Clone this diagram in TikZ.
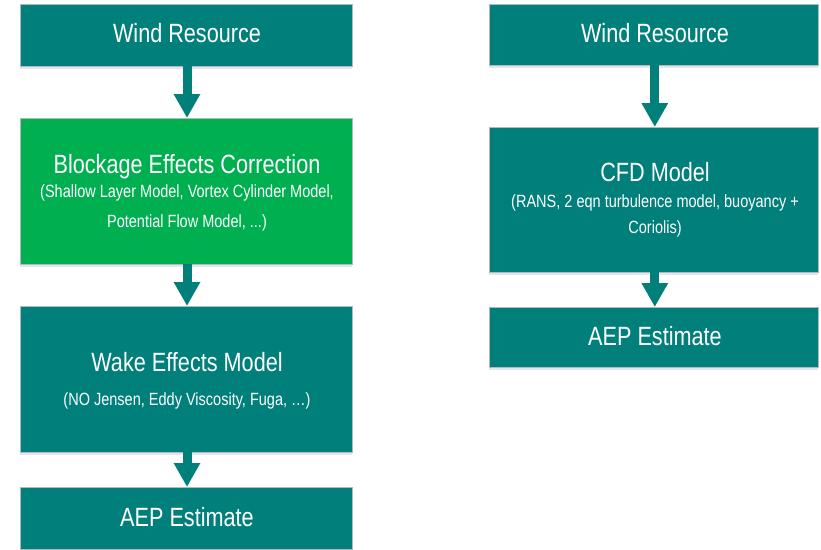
\documentclass[tikz,border=0pt]{standalone}
\usepackage{fontspec}
\setmainfont{Liberation Sans}[FakeStretch=0.82]
\usetikzlibrary{arrows.meta,shadows}
\definecolor{tealbox}{RGB}{0,127,123}
\definecolor{greenbox}{RGB}{0,176,80}
\definecolor{edgegray}{RGB}{175,185,190}
\begin{document}
\begin{tikzpicture}[x=1pt,y=-1pt,
  box/.style={draw=edgegray, line width=0.8pt, inner sep=0pt, outer sep=0pt,
    drop shadow={shadow xshift=0pt, shadow yshift=-3pt, opacity=0.10, fill=blue!40!black}},
  leftbox/.style={box, minimum width=332pt},
  rightbox/.style={box, minimum width=329pt},
  title/.style={anchor=base, inner sep=0pt, text=white, font=\fontsize{26.4}{30}\selectfont},
  sub/.style={anchor=base, inner sep=0pt, text=white, font=\fontsize{17.7}{20}\selectfont},
  arr/.style={draw=tealbox, line width=9pt, -{Triangle[length=24pt,width=25pt]}}]
\useasboundingbox (0,0) rectangle (821,549);
% left column boxes
\node[leftbox, fill=tealbox, minimum height=62pt] (wr1) at (186,35) {};
\node[leftbox, fill=greenbox, minimum height=146pt] (bl) at (186,191) {};
\node[leftbox, fill=tealbox, minimum height=146pt] (wk) at (186,379) {};
\node[leftbox, fill=tealbox, minimum height=62pt] (aep1) at (186,518) {};
% right column boxes
\node[rightbox, fill=tealbox, minimum height=61pt] (wr2) at (653.8,34.5) {};
\node[rightbox, fill=tealbox, minimum height=145pt] (cfd) at (653.8,199.5) {};
\node[rightbox, fill=tealbox, minimum height=60pt] (aep2) at (653.8,337) {};
% left texts
\node[title] (t-wr1) at (187,42.7) {Wind Resource};
\node[title] (t-bl) at (187,173.5) {Blockage Effects Correction};
\node[sub] (s-bl1) at (187,197.7) {(Shallow Layer Model, Vortex Cylinder Model,};
\node[sub] (s-bl2) at (187,227.7) {Potential Flow Model, ...)};
\node[title] (t-wk) at (187,371) {Wake Effects Model};
\node[sub] (s-wk) at (187,405) {(NO Jensen, Eddy Viscosity, Fuga, …)};
\node[title] (t-aep1) at (187,526.7) {AEP Estimate};
% right texts
\node[title] (t-wr2) at (655,42.7) {Wind Resource};
\node[title] (t-cfd) at (655,181.7) {CFD Model};
\node[sub] (s-cfd1) at (655,207.3) {(RANS, 2 eqn turbulence model, buoyancy +};
\node[sub] (s-cfd2) at (655,233.3) {Coriolis)};
\node[title] (t-aep2) at (655,345.7) {AEP Estimate};
% arrows
\draw[arr] ([xshift=1pt]wr1.south) -- ([xshift=1pt]bl.north);
\draw[arr] ([xshift=1pt]bl.south) -- ([xshift=1pt]wk.north);
\draw[arr] ([xshift=1pt]wk.south) -- ([xshift=1pt]aep1.north);
\draw[arr] ([xshift=1pt]wr2.south) -- ([xshift=1pt]cfd.north);
\draw[arr] ([xshift=1pt]cfd.south) -- ([xshift=1pt]aep2.north);
\end{tikzpicture}
\end{document}
